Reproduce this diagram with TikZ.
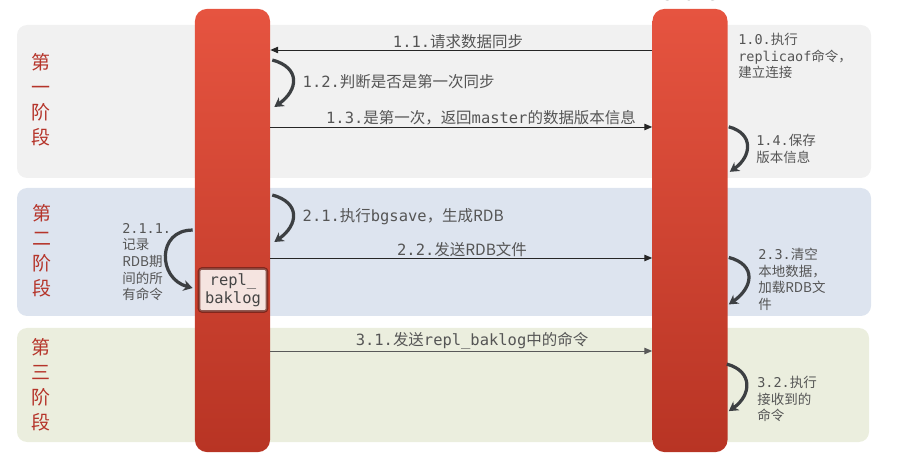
\documentclass[tikz,border=0pt]{standalone}
\usepackage{fontspec}
\setmainfont{DejaVu Sans Mono}
\newfontfamily\cjk{Noto Sans CJK SC}
\newcommand{\zh}[1]{{\cjk #1}}
\usetikzlibrary{
  arrows.meta,
  positioning,
  calc
}
\definecolor{barred}{RGB}{230,84,64}
\definecolor{bardark}{RGB}{184,52,36}
\definecolor{stagered}{RGB}{181,52,42}
\definecolor{bandgray}{RGB}{241,241,241}
\definecolor{bandblue}{RGB}{221,228,239}
\definecolor{bandgreen}{RGB}{235,238,222}
\definecolor{txtgray}{RGB}{85,85,85}
\definecolor{loopgray}{RGB}{60,63,66}
\definecolor{logpink}{RGB}{245,228,224}

\begin{document}
\begin{tikzpicture}[x=0.025cm,y=-0.025cm,
  bar/.style={rectangle,rounded corners=0.3cm,top color=barred,bottom color=bardark,
    minimum width=1.875cm,minimum height=11.075cm,inner sep=0pt},
  stage/.style={text=stagered,font=\cjk\fontsize{13.5}{17.7}\selectfont,align=center},
  lbl/.style={text=txtgray,font=\fontsize{11}{12.5}\selectfont,inner sep=1pt},
  side/.style={text=txtgray,font=\fontsize{9.6}{11.8}\selectfont,inner sep=0pt,
    align=left,anchor=north west},
  msg/.style={draw=black!85,line width=0.7pt,-{Triangle[length=5.5pt,width=4.5pt]}},
  selfloop/.style={draw=loopgray,line width=2.3pt,-{Stealth[length=6.5pt,width=7.5pt,inset=2pt]}}
]
\useasboundingbox (0,0) rectangle (910,459);
% three phase bands
\fill[bandgray,rounded corners=0.25cm] (17,25) rectangle (871,178);
\fill[bandblue,rounded corners=0.25cm] (17,188) rectangle (871,316);
\fill[bandgreen,rounded corners=0.25cm] (17,328) rectangle (869,442);
\node[stage] (st1) at (41,100) {第\\一\\阶\\段};
\node[stage] (st2) at (42,251) {第\\二\\阶\\段};
\node[stage] (st3) at (41,385) {第\\三\\阶\\段};
% master and slave
\node[bar] (master) at (232.5,230.5) {};
\node[bar] (slave) at (690,230.5) {};
\node[text=txtgray,font=\fontsize{13}{13}\selectfont,anchor=base] (slavename) at (690,1) {slave};
% phase 1
\node[lbl,anchor=south] (l11) at (458,50) {1.1.\zh{请求数据同步}};
\draw[msg] (slave.west |- l11.south) -- (master.east |- l11.south);
\node[lbl,anchor=west] (l12) at (301,82) {1.2.\zh{判断是否是第一次同步}};
\draw[selfloop] ($(master.east |- l12.west)+(2,-22)$) to[out=-15,in=35,looseness=1.6]
  ($(master.east |- l12.west)+(4,25)$);
\node[lbl,anchor=south] (l13) at (481,127) {1.3.\zh{是第一次，返回}master\zh{的数据版本信息}};
\draw[msg] (master.east |- l13.south) -- (slave.west |- l13.south);
\node[side] (l10) at (738,33) {1.0.\zh{执行}\\replicaof\zh{命令，}\\\zh{建立连接}};
\node[side] (l14) at (756,134) {1.4.\zh{保存}\\\zh{版本信息}};
\draw[selfloop] ($(slave.east |- l14.west)+(1,-22)$) to[out=-15,in=35,looseness=1.5]
  ($(slave.east |- l14.west)+(2,23)$);
% phase 2
\node[lbl,anchor=west] (l21) at (301,217) {2.1.\zh{执行}bgsave\zh{，生成RDB}};
\draw[selfloop] ($(master.east |- l21.west)+(2,-22)$) to[out=-15,in=35,looseness=1.6]
  ($(master.east |- l21.west)+(4,25)$);
\node[lbl,anchor=south] (l22) at (462,258) {2.2.\zh{发送RDB文件}};
\draw[msg] (master.east |- l22.south) -- (slave.west |- l22.south);
\node[fill=logpink,draw=bardark!55!black,draw opacity=0.7,line width=1.8pt,rounded corners=2pt,
  minimum width=1.7cm,minimum height=1.075cm,inner sep=1pt,align=center,
  text=txtgray!80!black,font=\fontsize{11}{12.8}\selectfont] (log) at (233,290) {repl\_\\baklog};
\node[side] (l211) at (122,223) {2.1.1.\\\zh{记录}\\\zh{RDB期}\\\zh{间的所}\\\zh{有命令}};
\draw[selfloop] ($(master.west |- l211.east)+(-2,-32)$) to[out=180,in=165,looseness=1.6]
  ($(log.west)+(-5,-2)$);
\node[side] (l23) at (758,248) {2.3.\zh{清空}\\\zh{本地数据，}\\\zh{加载RDB文}\\\zh{件}};
\draw[selfloop] ($(slave.east |- l23.west)+(1,-22)$) to[out=-15,in=35,looseness=1.6]
  ($(slave.east |- l23.west)+(1,25)$);
% phase 3
\node[lbl,anchor=south] (l31) at (472,351) {3.1.\zh{发送}repl\_baklog\zh{中的命令}};
\draw[msg,draw=black!65] (master.east |- l31.south) -- (slave.west |- l31.south);
\node[side] (l32) at (757,376) {3.2.\zh{执行}\\\zh{接收到的}\\\zh{命令}};
\draw[selfloop] ($(slave.east |- l32.west)+(-1,-35)$) to[out=-15,in=35,looseness=1.5]
  ($(slave.east |- l32.west)+(1,12)$);
\end{tikzpicture}
\end{document}
